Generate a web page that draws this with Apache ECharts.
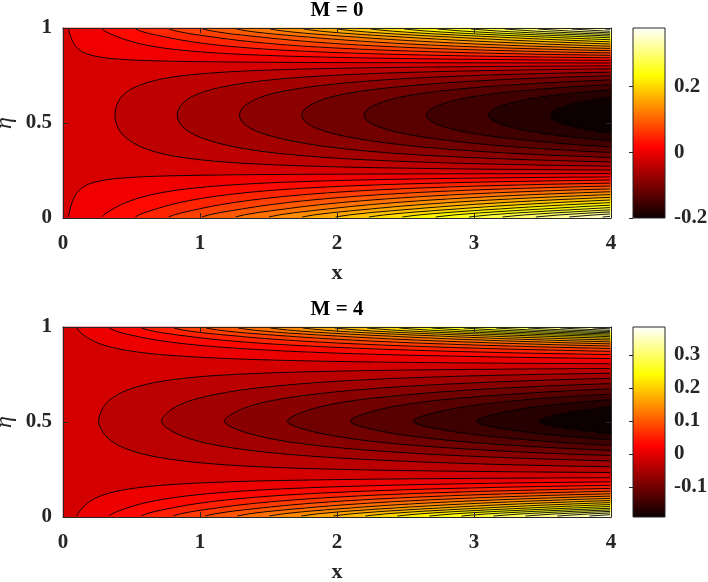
<!DOCTYPE html>
<html>
<head>
<meta charset="utf-8">
<script src="https://cdn.jsdelivr.net/npm/echarts@6/dist/echarts.min.js"></script>
<style>
  html, body { margin: 0; background: #fff; }
  #chart { width: 708px; height: 582px; }
</style>
</head>
<body>
<div id="chart"></div>
<script>
// grid of values: columns at x, rows at eta
const xCols = [0, 1, 2, 3, 4];
const etaRows = [0, 0.05, 0.1, 0.15, 0.2, 0.25, 0.3, 0.35, 0.4, 0.45, 0.5,
  0.55, 0.6, 0.65, 0.7, 0.75, 0.8, 0.85, 0.9, 0.95, 1];

const fieldM0 = [
  [0, 0.093, 0.186, 0.279, 0.372],
  [0, 0.070, 0.140, 0.210, 0.280],
  [0, 0.049, 0.098, 0.147, 0.196],
  [0, 0.030, 0.060, 0.090, 0.120],
  [0, 0.012, 0.024, 0.036, 0.048],
  [0, -0.004, -0.008, -0.012, -0.016],
  [0, -0.017, -0.034, -0.051, -0.068],
  [0, -0.028, -0.056, -0.084, -0.112],
  [0, -0.037, -0.074, -0.111, -0.148],
  [0, -0.044, -0.088, -0.132, -0.176],
  [0, -0.048, -0.096, -0.144, -0.192],
  [0, -0.049, -0.098, -0.147, -0.196],
  [0, -0.047, -0.094, -0.141, -0.188],
  [0, -0.042, -0.084, -0.126, -0.168],
  [0, -0.033, -0.066, -0.099, -0.132],
  [0, -0.021, -0.042, -0.063, -0.084],
  [0, -0.005, -0.010, -0.015, -0.020],
  [0, 0.015, 0.030, 0.045, 0.060],
  [0, 0.038, 0.076, 0.114, 0.152],
  [0, 0.063, 0.126, 0.189, 0.252],
  [0, 0.093, 0.186, 0.279, 0.372]
];

const fieldM4 = [
  [0, 0.096, 0.192, 0.288, 0.384],
  [0, 0.066, 0.132, 0.198, 0.264],
  [0, 0.040, 0.080, 0.120, 0.160],
  [0, 0.019, 0.038, 0.057, 0.076],
  [0, 0.004, 0.008, 0.012, 0.016],
  [0, -0.006, -0.012, -0.018, -0.024],
  [0, -0.015, -0.030, -0.045, -0.060],
  [0, -0.025, -0.050, -0.075, -0.100],
  [0, -0.035, -0.070, -0.105, -0.140],
  [0, -0.043, -0.086, -0.129, -0.172],
  [0, -0.0478, -0.0956, -0.1434, -0.1912],
  [0, -0.045, -0.090, -0.135, -0.180],
  [0, -0.039, -0.078, -0.117, -0.156],
  [0, -0.030, -0.060, -0.090, -0.120],
  [0, -0.020, -0.040, -0.060, -0.080],
  [0, -0.010, -0.020, -0.030, -0.040],
  [0, 0.001, 0.002, 0.003, 0.004],
  [0, 0.012, 0.024, 0.036, 0.048],
  [0, 0.030, 0.060, 0.090, 0.120],
  [0, 0.058, 0.116, 0.174, 0.232],
  [0, 0.096, 0.192, 0.288, 0.384]
];

// colour ranges and contour levels (first level, spacing)
const rangeM0 = [-0.2, 0.377];
const rangeM4 = [-0.191, 0.385];
const levelsM0 = [0.0037, 0.0223];
const levelsM4 = [0.0096, 0.022];

const xTicks = [0, 1, 2, 3, 4];
const etaTicks = [0, 0.5, 1];
const barTicksM0 = [-0.2, 0, 0.2];
const barTicksM4 = [-0.1, 0, 0.1, 0.2, 0.3];

// matlab "hot"
const hot = ['#0b0000', '#5c0000', '#ad0000', '#ff0000', '#ff5500', '#ffaa00', '#ffff00', '#ffff80', '#ffffff'];
const NX = 274, NY = 95;
const axisColor = '#262626';
const serif = '"Liberation Serif", "Times New Roman", serif';

function sample(field, x, e) {
  let i = Math.min(xCols.length - 2, Math.floor(x / (xCols[1] - xCols[0])));
  const u = (x - xCols[i]) / (xCols[i + 1] - xCols[i]);
  const rowVal = r => {
    r = Math.max(0, Math.min(etaRows.length - 1, r));
    return field[r][i] * (1 - u) + field[r][i + 1] * u;
  };
  const h = etaRows[1] - etaRows[0];
  let j = Math.min(etaRows.length - 2, Math.floor(e / h));
  const t = (e - etaRows[j]) / h;
  const p0 = rowVal(j - 1), p1 = rowVal(j), p2 = rowVal(j + 1), p3 = rowVal(j + 2);
  return 0.5 * (2 * p1 + (-p0 + p2) * t + (2 * p0 - 5 * p1 + 4 * p2 - p3) * t * t +
    (-p0 + 3 * p1 - 3 * p2 + p3) * t * t * t);
}

function buildField(field, range, lv) {
  const dx = 4 / NX, de = 1 / NY;
  const raw = [], cells = [];
  for (let j = 0; j < NY; j++) {
    raw.push([]);
    for (let i = 0; i < NX; i++) {
      const v = sample(field, (i + 0.5) * dx, (j + 0.5) * de);
      raw[j].push(v);
      let q = lv[0] + Math.floor((v - lv[0]) / lv[1]) * lv[1];
      q = Math.max(range[0], Math.min(range[1], q));
      cells.push([i, j, q]);
    }
  }
  const levels = [];
  for (let k = -20; k <= 20; k++) {
    const L = lv[0] + k * lv[1];
    if (L > range[0] && L < range[1]) levels.push(L);
  }
  const segs = [];
  const px = i => (i + 0.5) * dx, py = j => (j + 0.5) * de;
  for (let j = 0; j < NY - 1; j++) {
    for (let i = 0; i < NX - 1; i++) {
      const c = [[i, j, raw[j][i]], [i + 1, j, raw[j][i + 1]],
        [i + 1, j + 1, raw[j + 1][i + 1]], [i, j + 1, raw[j + 1][i]]];
      levels.forEach(L => {
        const pts = [];
        for (let k = 0; k < 4; k++) {
          const a = c[k], b = c[(k + 1) % 4];
          if ((a[2] >= L) !== (b[2] >= L)) {
            const s = (L - a[2]) / (b[2] - a[2]);
            pts.push([px(a[0] + (b[0] - a[0]) * s), py(a[1] + (b[1] - a[1]) * s)]);
          }
        }
        if (pts.length >= 2) segs.push({ coords: [pts[0], pts[1]] });
        if (pts.length === 4) segs.push({ coords: [pts[2], pts[3]] });
      });
    }
  }
  return { cells, segs };
}

const plots = [
  { title: 'M = 0', top: 28, field: fieldM0, range: rangeM0, lv: levelsM0, bar: barTicksM0 },
  { title: 'M = 4', top: 327, field: fieldM4, range: rangeM4, lv: levelsM4, bar: barTicksM4 }
];

const grid = [], xAxis = [], yAxis = [], series = [], visualMap = [], graphic = [];
const tickFont = { fontFamily: serif, fontWeight: 'bold', fontSize: 21, color: axisColor };
const line = { show: true, onZero: false, lineStyle: { color: axisColor, width: 1 } };
const tick = { show: true, inside: true, length: 5, lineStyle: { color: axisColor, width: 1 } };
const box = (left, top, width) => ({
  left, top, width, height: 190, containLabel: false, outerBoundsMode: 'none'
});

plots.forEach((p, n) => {
  const g = grid.length;
  const { cells, segs } = buildField(p.field, p.range, p.lv);
  // value grid (ticks, frame, contour lines), heatmap grid on the same rectangle, colour bar
  grid.push(box(63, p.top, 548), box(63, p.top, 548), box(633, p.top, 32));
  const xa = xAxis.length, ya = yAxis.length;
  xAxis.push({
    gridIndex: g, type: 'value', min: 0, max: 4, interval: 1, position: 'bottom', z: 5,
    axisLine: line, axisTick: tick, splitLine: { show: false },
    axisLabel: Object.assign({ margin: 15, customValues: xTicks }, tickFont),
    name: 'x', nameLocation: 'middle', nameGap: 44,
    nameTextStyle: { fontFamily: serif, fontWeight: 'bold', fontSize: 22, color: axisColor }
  });
  xAxis.push({
    gridIndex: g, type: 'value', min: 0, max: 4, interval: 1, position: 'top', z: 5,
    axisLine: line, axisTick: tick, splitLine: { show: false }, axisLabel: { show: false }
  });
  xAxis.push({ gridIndex: g + 1, type: 'category', data: cells.slice(0, NX).map(c => c[0]), show: false });
  xAxis.push({ gridIndex: g + 2, type: 'value', min: 0, max: 1, show: false });
  yAxis.push({
    gridIndex: g, type: 'value', min: 0, max: 1, interval: 0.5, position: 'left', z: 5,
    axisLine: line, axisTick: tick, splitLine: { show: false },
    axisLabel: Object.assign({ margin: 11, customValues: etaTicks }, tickFont),
    name: 'η', nameLocation: 'middle', nameGap: 46, nameRotate: 90, nameMoveOverlap: false,
    nameTextStyle: { fontFamily: serif, fontStyle: 'italic', fontSize: 24, color: axisColor }
  });
  yAxis.push({
    gridIndex: g, type: 'value', min: 0, max: 1, interval: 0.5, position: 'right', z: 5,
    axisLine: line, axisTick: tick, splitLine: { show: false }, axisLabel: { show: false }
  });
  yAxis.push({ gridIndex: g + 1, type: 'category', data: Array.from({ length: NY }, (_, j) => j), show: false });
  yAxis.push({
    gridIndex: g + 2, type: 'value', min: p.range[0], max: p.range[1], position: 'right', z: 5,
    axisLine: { show: false }, splitLine: { show: false },
    axisTick: { show: true, inside: true, length: 4, customValues: p.bar, lineStyle: { color: axisColor } },
    axisLabel: Object.assign({ margin: 9, customValues: p.bar }, tickFont)
  });

  visualMap.push({
    type: 'continuous', show: false, seriesIndex: series.length, dimension: 2,
    min: p.range[0], max: p.range[1], inRange: { color: hot }
  });
  series.push({
    type: 'heatmap', xAxisIndex: xa + 2, yAxisIndex: ya + 2, data: cells,
    progressive: 0, silent: true, itemStyle: { borderWidth: 0 }
  });
  series.push({
    type: 'lines', coordinateSystem: 'cartesian2d', xAxisIndex: xa, yAxisIndex: ya,
    data: segs, large: true, largeThreshold: 100, progressive: 0, silent: true, z: 3,
    lineStyle: { color: '#000', width: 0.9, opacity: 1 }
  });
  const range = p.range;
  series.push({
    type: 'custom', xAxisIndex: xa + 3, yAxisIndex: ya + 3, data: [[0, 0]], silent: true, z: 3,
    renderItem: (params, api) => {
      const a = api.coord([0, range[1]]), b = api.coord([1, range[0]]);
      return {
        type: 'rect',
        shape: { x: a[0], y: a[1], width: b[0] - a[0], height: b[1] - a[1] },
        style: {
          fill: new echarts.graphic.LinearGradient(0, 1, 0, 0,
            hot.map((c, k) => ({ offset: k / (hot.length - 1), color: c }))),
          stroke: axisColor, lineWidth: 1
        }
      };
    }
  });
  graphic.push({
    type: 'text', x: 337, y: p.top - 17,
    style: { text: p.title, font: 'bold 21px ' + serif, fill: '#000', align: 'center', verticalAlign: 'middle' }
  });
});

const chart = echarts.init(document.getElementById('chart'));
chart.setOption({
  animation: false,
  backgroundColor: '#fff',
  grid, xAxis, yAxis, visualMap, series, graphic
});
</script>
</body>
</html>
